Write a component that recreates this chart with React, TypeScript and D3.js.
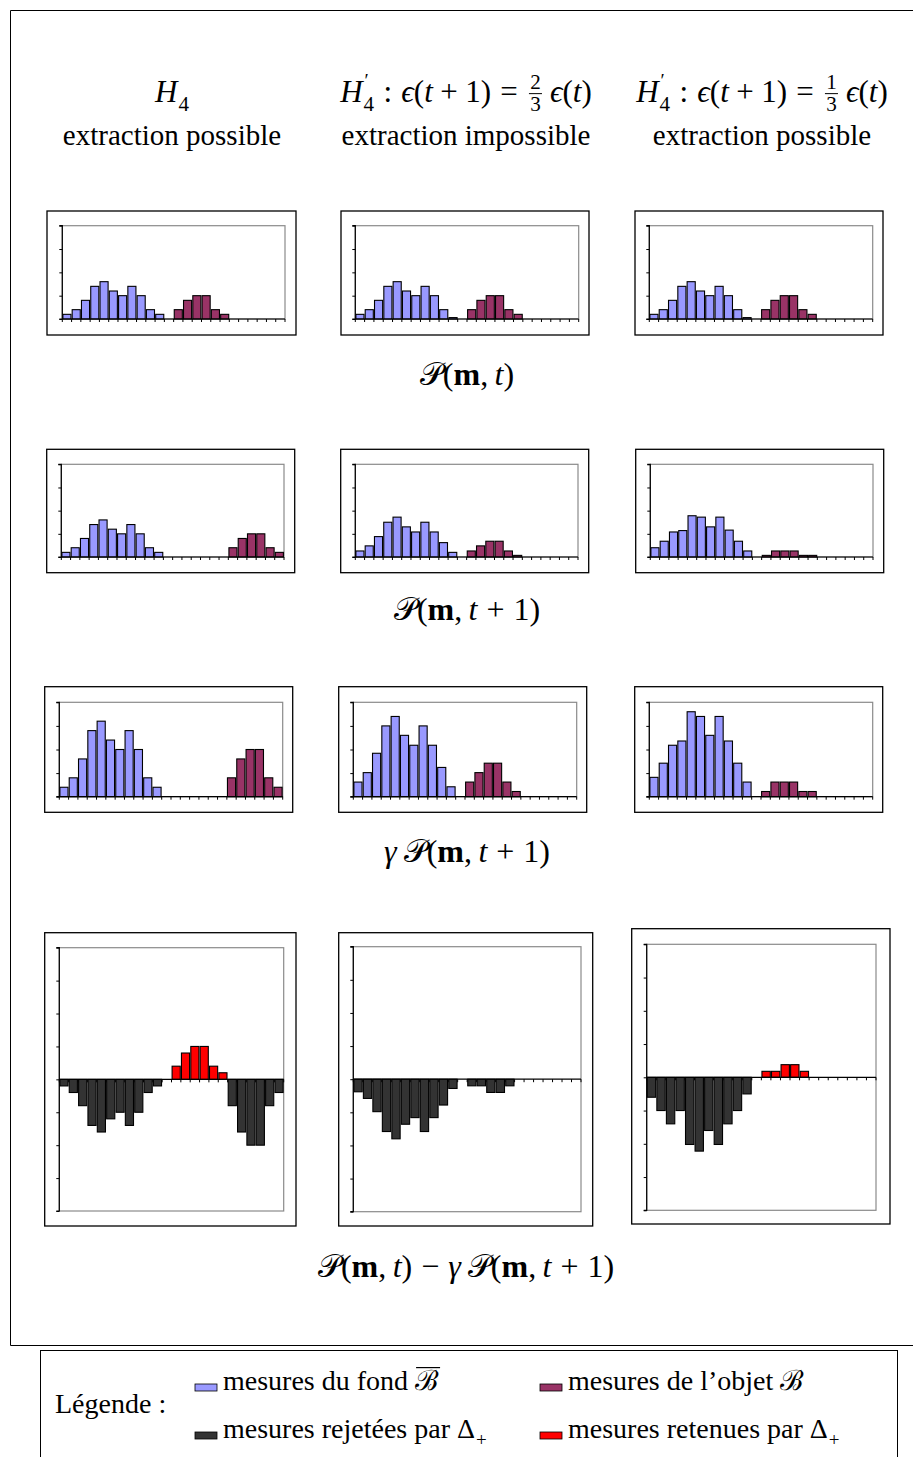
import React, { useEffect, useRef } from 'react';
import * as d3 from 'd3';

// ---------- DATA ----------
const BINS = d3.range(1, 25); // 24 classes de mesures

// Ligne 1 : P(m,t)
const Pt_H4_fond = [1, 2, 4, 7, 8, 6, 5, 7, 5, 2, 1, 0, 0, 0, 0, 0, 0, 0, 0, 0, 0, 0, 0, 0];
const Pt_H4_objet = [0, 0, 0, 0, 0, 0, 0, 0, 0, 0, 0, 0, 2, 4, 5, 5, 2, 1, 0, 0, 0, 0, 0, 0];
const Pt_H4b_fond = [1, 2, 4, 7, 8, 6, 5, 7, 5, 2, 0.3, 0, 0, 0, 0, 0, 0, 0, 0, 0, 0, 0, 0, 0];
const Pt_H4b_objet = [0, 0, 0, 0, 0, 0, 0, 0, 0, 0, 0, 0, 2, 4, 5, 5, 2, 1, 0, 0, 0, 0, 0, 0];
const Pt_H4c_fond = [1, 2, 4, 7, 8, 6, 5, 7, 5, 2, 0.3, 0, 0, 0, 0, 0, 0, 0, 0, 0, 0, 0, 0, 0];
const Pt_H4c_objet = [0, 0, 0, 0, 0, 0, 0, 0, 0, 0, 0, 0, 2, 4, 5, 5, 2, 1, 0, 0, 0, 0, 0, 0];

// Ligne 2 : P(m,t+1)
const Pt1_H4_fond = [1, 2, 4, 7, 8, 6, 5, 7, 5, 2, 1, 0, 0, 0, 0, 0, 0, 0, 0, 0, 0, 0, 0, 0];
const Pt1_H4_objet = [0, 0, 0, 0, 0, 0, 0, 0, 0, 0, 0, 0, 0, 0, 0, 0, 0, 0, 2, 4, 5, 5, 2, 1];
const Pt1_H4b_fond = [1.3, 2.4, 4.4, 7.5, 8.6, 6.5, 5.4, 7.5, 5.4, 3.1, 1.0, 0, 0, 0, 0, 0, 0, 0, 0, 0, 0, 0, 0, 0];
const Pt1_H4b_objet = [0, 0, 0, 0, 0, 0, 0, 0, 0, 0, 0, 0, 1.3, 2.4, 3.4, 3.4, 1.3, 0.35, 0, 0, 0, 0, 0, 0];
const Pt1_H4c_fond = [2.0, 3.4, 5.4, 5.7, 8.9, 8.6, 6.5, 8.6, 5.8, 3.4, 1.3, 0, 0, 0, 0, 0, 0, 0, 0, 0, 0, 0, 0, 0];
const Pt1_H4c_objet = [0, 0, 0, 0, 0, 0, 0, 0, 0, 0, 0, 0, 0.35, 1.3, 1.3, 1.3, 0.35, 0.35, 0, 0, 0, 0, 0, 0];

// Ligne 3 : gamma P(m,t+1)
const gPt1_H4_fond = [2, 4, 8, 14, 16, 12, 10, 14, 10, 4, 2, 0, 0, 0, 0, 0, 0, 0, 0, 0, 0, 0, 0, 0];
const gPt1_H4_objet = [0, 0, 0, 0, 0, 0, 0, 0, 0, 0, 0, 0, 0, 0, 0, 0, 0, 0, 4, 8, 10, 10, 4, 2];
const gPt1_H4b_fond = [3.1, 5.1, 9.2, 15, 17, 13, 10.9, 15, 10.9, 6.2, 2.1, 0, 0, 0, 0, 0, 0, 0, 0, 0, 0, 0, 0, 0];
const gPt1_H4b_objet = [0, 0, 0, 0, 0, 0, 0, 0, 0, 0, 0, 0, 3.1, 5.1, 7.1, 7.1, 3.1, 1.1, 0, 0, 0, 0, 0, 0];
const gPt1_H4c_fond = [4.1, 7.1, 10.9, 11.8, 18, 17, 13, 17, 11.8, 7.1, 3.1, 0, 0, 0, 0, 0, 0, 0, 0, 0, 0, 0, 0, 0];
const gPt1_H4c_objet = [0, 0, 0, 0, 0, 0, 0, 0, 0, 0, 0, 0, 1.1, 3.1, 3.1, 3.1, 1.1, 1.1, 0, 0, 0, 0, 0, 0];

// Ligne 4 : P(m,t) - gamma P(m,t+1)
const diff_H4 = [-1, -2, -4, -7, -8, -6, -5, -7, -5, -2, -1, 0, 2, 4, 5, 5, 2, 1, -4, -8, -10, -10, -4, -2];
const diff_H4b = [-1.9, -2.9, -4.9, -7.9, -9, -6.8, -5.8, -7.9, -5.8, -3.9, -1.4, 0, -1, -1, -2, -2, -1, 0, 0, 0, 0, 0, 0, 0];
const diff_H4c = [-3, -5, -7, -5, -10.1, -11.1, -8, -10.1, -7, -5, -2.5, 0, 0.9, 0.9, 1.9, 1.9, 0.9, 0, 0, 0, 0, 0, 0, 0];

const Y_TICKS_POS = [0, 5, 10, 15, 20];
const Y_TICKS_DIFF = [-20, -15, -10, -5, 0, 5, 10, 15, 20];

const HEAD2 = ['extraction possible', 'extraction impossible', 'extraction possible'];
const LEGEND_LABEL = 'Légende :';

// ---------- STYLE ----------
const FONT = "'Liberation Serif', 'Times New Roman', serif";
const C_FOND = '#9999FF';
const C_OBJ = '#993366';
const C_REJ = '#333333';
const C_RET = '#FF0000';
const FS = 29;
const FM = 31; // math size (headers)
const FC = 32; // math size (captions)

type Seg = { t?: string; it?: boolean; bold?: boolean; sup?: string; sub?: string; frac?: [string, string]; over?: boolean; gap?: number };

function drawMath(parent: any, segs: Seg[], x0: number, y: number, fs: number, anchor: 'middle' | 'start') {
  const g = parent.append('g');
  const txt = (s: string, xx: number, yy: number, size: number, it = false, bold = false) =>
    g.append('text')
      .attr('x', xx).attr('y', yy)
      .attr('font-size', size).attr('font-family', FONT)
      .attr('font-style', it ? 'italic' : 'normal')
      .attr('font-weight', bold ? 'bold' : 'normal')
      .style('white-space', 'pre')
      .attr('fill', '#000')
      .text(s);
  let x = 0;
  for (const s of segs) {
    if (s.gap !== undefined) {
      x += s.gap * fs;
    } else if (s.frac) {
      const fz = fs * 0.68;
      const pad = fs * 0.1;
      const a = txt(s.frac[0], 0, y - fs * 0.42, fz).attr('text-anchor', 'middle');
      const b = txt(s.frac[1], 0, y + fs * 0.3, fz).attr('text-anchor', 'middle');
      const w = Math.max(a.node().getComputedTextLength(), b.node().getComputedTextLength());
      a.attr('x', x + pad + w / 2);
      b.attr('x', x + pad + w / 2);
      g.append('line')
        .attr('x1', x + pad * 0.6).attr('x2', x + pad * 1.4 + w)
        .attr('y1', y - fs * 0.27).attr('y2', y - fs * 0.27)
        .attr('stroke', '#000').attr('stroke-width', 1);
      x += w + 2 * pad;
    } else {
      const el = txt(s.t || '', x, y, fs, !!s.it, !!s.bold);
      const w = el.node().getComputedTextLength();
      if (s.over) {
        g.append('line').attr('x1', x + 1).attr('x2', x + w + 2)
          .attr('y1', y - fs * 0.8).attr('y2', y - fs * 0.8)
          .attr('stroke', '#000').attr('stroke-width', 1.2);
      }
      x += w;
      let sw = 0;
      if (s.sup) {
        const e = txt(s.sup, x + 2, y - fs * 0.47, fs * 0.62);
        sw = Math.max(sw, e.node().getComputedTextLength() + 2);
      }
      if (s.sub) {
        const e = txt(s.sub, x + 1, y + fs * 0.3, fs * 0.68);
        sw = Math.max(sw, e.node().getComputedTextLength() + 1);
      }
      x += sw;
    }
  }
  g.attr('transform', `translate(${anchor === 'middle' ? x0 - x / 2 : x0},0)`);
}

type Panel = { outer: [number, number, number, number]; inner: [number, number, number, number]; series: { values: number[]; color: string }[]; diff?: number[] };

const PANELS: Panel[] = [
  { outer: [47, 211, 296, 335], inner: [62.3, 225.7, 285, 319], series: [{ values: Pt_H4_fond, color: C_FOND }, { values: Pt_H4_objet, color: C_OBJ }] },
  { outer: [341, 211, 589, 335], inner: [355.3, 225.7, 578.7, 319], series: [{ values: Pt_H4b_fond, color: C_FOND }, { values: Pt_H4b_objet, color: C_OBJ }] },
  { outer: [635, 211, 883, 335], inner: [649.3, 225.7, 872.7, 319], series: [{ values: Pt_H4c_fond, color: C_FOND }, { values: Pt_H4c_objet, color: C_OBJ }] },
  { outer: [46.7, 449.3, 294.7, 572.7], inner: [61.3, 464.3, 284, 557], series: [{ values: Pt1_H4_fond, color: C_FOND }, { values: Pt1_H4_objet, color: C_OBJ }] },
  { outer: [340.7, 449.3, 588.7, 572.7], inner: [355.3, 464.3, 578, 557], series: [{ values: Pt1_H4b_fond, color: C_FOND }, { values: Pt1_H4b_objet, color: C_OBJ }] },
  { outer: [635.7, 449.3, 883.7, 572.7], inner: [650.3, 464.3, 873, 557], series: [{ values: Pt1_H4c_fond, color: C_FOND }, { values: Pt1_H4c_objet, color: C_OBJ }] },
  { outer: [44.7, 686.7, 292.7, 812.3], inner: [59.3, 702.3, 282.7, 796.7], series: [{ values: gPt1_H4_fond, color: C_FOND }, { values: gPt1_H4_objet, color: C_OBJ }] },
  { outer: [338.7, 686.7, 586.7, 812.3], inner: [353.3, 702.3, 576.7, 796.7], series: [{ values: gPt1_H4b_fond, color: C_FOND }, { values: gPt1_H4b_objet, color: C_OBJ }] },
  { outer: [634.7, 686.7, 882.7, 812.3], inner: [649.3, 702.3, 872.7, 796.7], series: [{ values: gPt1_H4c_fond, color: C_FOND }, { values: gPt1_H4c_objet, color: C_OBJ }] },
  { outer: [44.7, 932.7, 296, 1226], inner: [59.3, 947.7, 283.7, 1211], series: [], diff: diff_H4 },
  { outer: [338.7, 932.7, 592.7, 1226], inner: [353.3, 946.7, 581, 1211.7], series: [], diff: diff_H4b },
  { outer: [631.7, 928.7, 890, 1224], inner: [646.7, 944.3, 876, 1210.3], series: [], diff: diff_H4c },
];

function drawPanel(svg: any, p: Panel) {
  const [ox0, oy0, ox1, oy1] = p.outer;
  const [ix0, iy0, ix1, iy1] = p.inner;
  const g = svg.append('g');
  g.append('rect').attr('x', ox0).attr('y', oy0).attr('width', ox1 - ox0).attr('height', oy1 - oy0)
    .attr('fill', '#fff').attr('stroke', '#000').attr('stroke-width', 1.3);
  const isDiff = !!p.diff;
  const x = d3.scaleBand<number>().domain(BINS).range([ix0, ix1]).padding(0);
  const y = d3.scaleLinear().domain(isDiff ? [-20, 20] : [0, 20]).range([iy1, iy0]);
  g.append('rect').attr('x', ix0).attr('y', iy0).attr('width', ix1 - ix0).attr('height', iy1 - iy0)
    .attr('fill', '#fff').attr('stroke', '#8a8a8a').attr('stroke-width', 1.2);
  const bw = x.bandwidth();
  const drawBars = (vals: number[], colorOf: (v: number) => string) => {
    g.selectAll(null).data(vals.map((v, i) => ({ v, b: BINS[i] })).filter(d => d.v !== 0))
      .enter().append('rect')
      .attr('x', (d: any) => (x(d.b) as number) + 0.6)
      .attr('width', bw - 1.2)
      .attr('y', (d: any) => Math.min(y(d.v), y(0)))
      .attr('height', (d: any) => Math.abs(y(d.v) - y(0)))
      .attr('fill', (d: any) => colorOf(d.v))
      .attr('stroke', '#000').attr('stroke-width', 1.1);
  };
  if (isDiff) drawBars(p.diff!, v => (v > 0 ? C_RET : C_REJ));
  p.series.forEach(s => drawBars(s.values, () => s.color));
  const ax = d3.axisLeft(y).tickValues(isDiff ? Y_TICKS_DIFF : Y_TICKS_POS).tickSize(3).tickFormat(() => '');
  const ga = g.append('g').attr('transform', `translate(${ix0},0)`).call(ax as any);
  ga.select('.domain').attr('stroke', '#000').attr('stroke-width', 1.2).attr('d', `M-3,${iy0}H0V${iy1}H-3`);
  ga.selectAll('line').attr('stroke', '#000').attr('stroke-width', 1);
  const y0 = y(0);
  g.append('line').attr('x1', ix0).attr('x2', ix1).attr('y1', y0).attr('y2', y0).attr('stroke', '#000').attr('stroke-width', 1.2);
  const bounds = BINS.map(b => x(b) as number).concat([ix1]);
  g.selectAll(null).data(bounds).enter().append('line')
    .attr('x1', (d: number) => d).attr('x2', (d: number) => d)
    .attr('y1', y0).attr('y2', y0 + 3)
    .attr('stroke', '#000').attr('stroke-width', 1);
}

export default function App() {
  const ref = useRef<SVGSVGElement>(null);
  useEffect(() => {
    const svg = d3.select(ref.current);
    svg.selectAll('*').remove();
    svg.append('rect').attr('width', 913).attr('height', 1457).attr('fill', '#fff');
    svg.append('path').attr('d', 'M913,10.5H10.5V1345.5H913').attr('fill', 'none').attr('stroke', '#000').attr('stroke-width', 1);

    const BIN: Seg = { gap: 0.24 };
    const REL: Seg = { gap: 0.3 };
    const cols = [172, 466, 762];
    drawMath(svg, [{ t: 'H', it: true, sub: '4' }], cols[0], 102, FM, 'middle');
    const hyp = (n: string): Seg[] => [
      { t: 'H', it: true, sup: '′', sub: '4' }, REL, { t: ':' }, REL, { t: 'ϵ', it: true }, { t: '(' }, { t: 't', it: true },
      BIN, { t: '+' }, BIN, { t: '1)' }, REL, { t: '=' }, REL, { frac: [n, '3'] }, { gap: 0.2 }, { t: 'ϵ', it: true },
      { t: '(' }, { t: 't', it: true }, { t: ')' },
    ];
    drawMath(svg, hyp('2'), cols[1], 102, FM, 'middle');
    drawMath(svg, hyp('1'), cols[2], 102, FM, 'middle');
    HEAD2.forEach((h, i) => drawMath(svg, [{ t: h }], cols[i], 145, FS, 'middle'));

    PANELS.forEach(p => drawPanel(svg, p));

    const CB: Seg = { gap: 0.28 };
    const P = (tt: Seg[]): Seg[] => [{ t: '𝒫' }, { t: '(' }, { t: 'm', bold: true }, { t: ',' }, { gap: 0.2 }, ...tt, { t: ')' }];
    const tt0: Seg[] = [{ t: 't', it: true }];
    const tt1: Seg[] = [{ t: 't', it: true }, CB, { t: '+' }, CB, { t: '1' }];
    const gam: Seg[] = [{ t: 'γ', it: true }, { gap: 0.22 }];
    drawMath(svg, P(tt0), 467, 385, FC, 'middle');
    drawMath(svg, P(tt1), 467, 620, FC, 'middle');
    drawMath(svg, [...gam, ...P(tt1)], 467, 862, FC, 'middle');
    drawMath(svg, [...P(tt0), CB, { t: '−' }, CB, ...gam, ...P(tt1)], 466, 1277, FC, 'middle');

    svg.append('rect').attr('x', 40.5).attr('y', 1350.5).attr('width', 857).attr('height', 130)
      .attr('fill', 'none').attr('stroke', '#000').attr('stroke-width', 1);
    drawMath(svg, [{ t: LEGEND_LABEL }], 55, 1413, 28, 'start');
    const items: { c: string; x: number; y: number; segs: Seg[] }[] = [
      { c: C_FOND, x: 195, y: 1390, segs: [{ t: 'mesures du fond ' }, { t: 'ℬ', over: true }] },
      { c: C_OBJ, x: 540, y: 1390, segs: [{ t: 'mesures de l’objet ' }, { t: 'ℬ' }] },
      { c: C_REJ, x: 195, y: 1438, segs: [{ t: 'mesures rejetées par Δ', sub: '+' }] },
      { c: C_RET, x: 540, y: 1438, segs: [{ t: 'mesures retenues par Δ', sub: '+' }] },
    ];
    items.forEach(it => {
      svg.append('rect').attr('x', it.x).attr('y', it.y - 6).attr('width', 22).attr('height', 7)
        .attr('fill', it.c).attr('stroke', '#000').attr('stroke-width', 0.8);
      drawMath(svg, it.segs, it.x + 28, it.y, 28, 'start');
    });
  }, []);
  return (
    <svg ref={ref} width={913} height={1457} style={{ position: 'absolute', left: 0, top: 0, display: 'block' }} />
  );
}
